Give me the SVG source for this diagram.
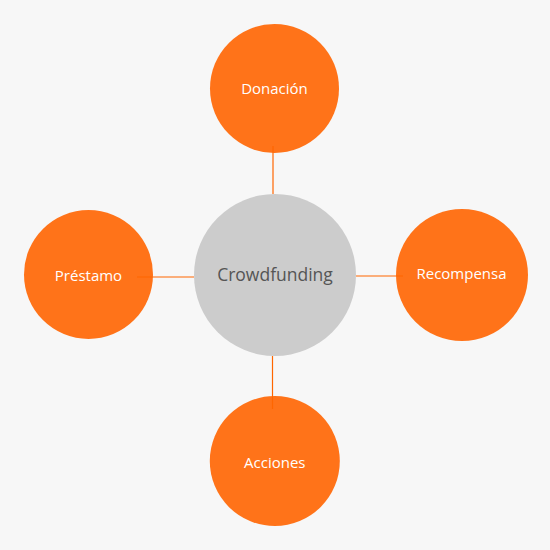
<svg xmlns="http://www.w3.org/2000/svg" width="550" height="550" viewBox="0 0 550 550">
<style>
.leaf{fill:#ff7319}
.leaf-t{fill:#ffffff;font-family:"Open Sans","Noto Sans",sans-serif;font-size:15px;text-anchor:middle}
.conn{stroke:#ff6600;stroke-width:1.2;fill:none}
</style>
<rect width="550" height="550" fill="#f7f7f7"/>
<g id="nodes-leaves">
<g id="donacion"><circle class="leaf" cx="274.5" cy="88.5" r="64.5"/><text class="leaf-t" x="274.5" y="93.5">Donación</text></g>
<g id="prestamo"><circle class="leaf" cx="88.5" cy="274.5" r="64.5"/><text class="leaf-t" x="88.5" y="281">Préstamo</text></g>
<g id="recompensa"><circle class="leaf" cx="462" cy="275" r="66"/><text class="leaf-t" x="461.5" y="279">Recompensa</text></g>
<g id="acciones"><circle class="leaf" cx="274.8" cy="461" r="65"/><text class="leaf-t" x="274.8" y="468">Acciones</text></g>
</g>
<g id="connectors">
<line class="conn" x1="273" y1="146" x2="273" y2="194"/>
<line class="conn" x1="137" y1="277" x2="194" y2="277"/>
<line class="conn" x1="356" y1="276" x2="403" y2="276"/>
<line class="conn" x1="272.5" y1="356" x2="272.5" y2="409"/>
</g>
<g id="crowdfunding"><circle cx="275" cy="275" r="81" fill="#cccccc"/><text x="275" y="281" fill="#555555" font-family="Open Sans, Noto Sans, sans-serif" font-size="17.5" text-anchor="middle">Crowdfunding</text></g>
</svg>
